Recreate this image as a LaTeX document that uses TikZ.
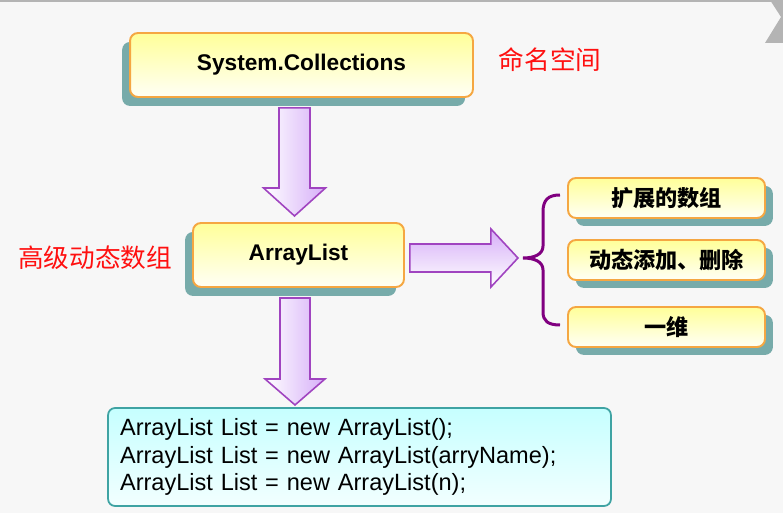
\documentclass[tikz,border=0pt]{standalone}
\usepackage{fontspec}
\setmainfont{Liberation Sans}
\newfontfamily\cjk{Noto Sans CJK SC}
\usepackage{xcolor}
\usetikzlibrary{calc,shadows}
\definecolor{bggray}{HTML}{F7F7F7}
\definecolor{topgray}{HTML}{B4B4B4}
\definecolor{boxorange}{HTML}{F5A742}
\definecolor{boxyellow}{HTML}{FFFF99}
\definecolor{boxwhite}{HTML}{FFFFF6}
\definecolor{shadowteal}{HTML}{77ABAA}
\definecolor{arrowpurple}{HTML}{A044C0}
\definecolor{arrowfill}{HTML}{D6AEF8}
\definecolor{bracepurple}{HTML}{800080}
\definecolor{codeteal}{HTML}{3FA3A3}
\definecolor{codetop}{HTML}{C6FFFF}
\definecolor{codebottom}{HTML}{F2FFFF}
\definecolor{labelred}{HTML}{FF1010}

\begin{document}
\begin{tikzpicture}[x=0.02cm, y=-0.02cm,
  yellowbox/.style={draw=boxorange, line width=1.1pt, rounded corners=4.5pt,
    top color=boxyellow, bottom color=boxwhite, inner sep=0pt},
  shadowleft/.style={drop shadow={shadow xshift=-4.5pt, shadow yshift=-5.1pt,
    fill=shadowteal, opacity=1}},
  shadowright/.style={drop shadow={shadow xshift=4.5pt, shadow yshift=-4.5pt,
    fill=shadowteal, opacity=1}},
  latinbold/.style={font=\fontsize{12.9}{15}\selectfont\bfseries},
  cjkbold/.style={font=\cjk\fontsize{12.6}{15}\selectfont\bfseries},
  sidebox/.style={yellowbox, shadowright, cjkbold, minimum width=3.94cm, minimum height=0.8cm},
  redlabel/.style={text=labelred, font=\cjk\fontsize{14.6}{17}\selectfont, inner sep=0pt},
  purplearrow/.style={draw=arrowpurple, line width=0.9pt, line join=miter},
  codebox/.style={draw=codeteal, line width=1pt, rounded corners=4pt,
    top color=codetop, bottom color=codebottom, minimum width=10.06cm, minimum height=1.96cm,
    text width=9.58cm, inner xsep=0.24cm, align=left, font=\fontsize{13.4}{15.7}\selectfont}]
  % background
  \fill[bggray] (0,0) rectangle (783,513);
  \useasboundingbox (0,0) rectangle (783,513);
  \draw[topgray, line width=1.4pt] (0,0.8) -- (772,0.8);
  \fill[topgray] (770,0) -- (783,0) -- (783,43) -- (765,43) -- (781,17) -- cycle;
  % boxes
  \node[yellowbox, shadowleft, latinbold, minimum width=6.86cm, minimum height=1.28cm] (sys) at (301.5,65) {System.Collections};
  \node[yellowbox, shadowleft, latinbold, minimum width=4.22cm, minimum height=1.28cm] (arr) at (298.5,255) {ArrayList};
  \node[sidebox] (ext) at (666.5,198) {扩展的数组};
  \node[sidebox] (dyn) at (666.5,260) {动态添加、删除};
  \node[sidebox] (one) at (666.5,327) {一维};
  \node[codebox] (code) at (359.5,457) {ArrayList List = new ArrayList();\\
    ArrayList List = new ArrayList(arryName);\\
    ArrayList List = new ArrayList(n);};
  % labels
  \node[redlabel] (ns) at (550,60) {命名空间};
  \node[redlabel] (adv) at (95,258) {高级动态数组};
  % block arrows
  \shadedraw[purplearrow, left color=white, right color=arrowfill] ($(sys.south)+(-22.5,10)$) -- ++(31,0) -- ++(0,80) -- ++(15.5,0) -- ++(-31,28) -- ++(-31,-28) -- ++(15.5,0) -- cycle;
  \shadedraw[purplearrow, left color=white, right color=arrowfill] ($(arr.south)+(-18.5,10)$) -- ++(30,0) -- ++(0,81) -- ++(15,0) -- ++(-30,26) -- ++(-30,-26) -- ++(15,0) -- cycle;
  \shadedraw[purplearrow, top color=arrowfill, bottom color=white] ($(arr.east)+(5,-11)$) -- ++(81,0) -- ++(0,-15) -- ++(27,29) -- ++(-27,29) -- ++(0,-15) -- ++(-81,0) -- cycle;
  % brace
  \draw[bracepurple, line width=1.7pt] (560,195) .. controls (548,195) and (543,200) .. (543,212) -- (543,246) .. controls (543,254) and (535,258) .. (523,258) .. controls (535,258) and (543,262) .. (543,270) -- (543,312) .. controls (543,321) and (548,325) .. (560,325);
\end{tikzpicture}
\end{document}
